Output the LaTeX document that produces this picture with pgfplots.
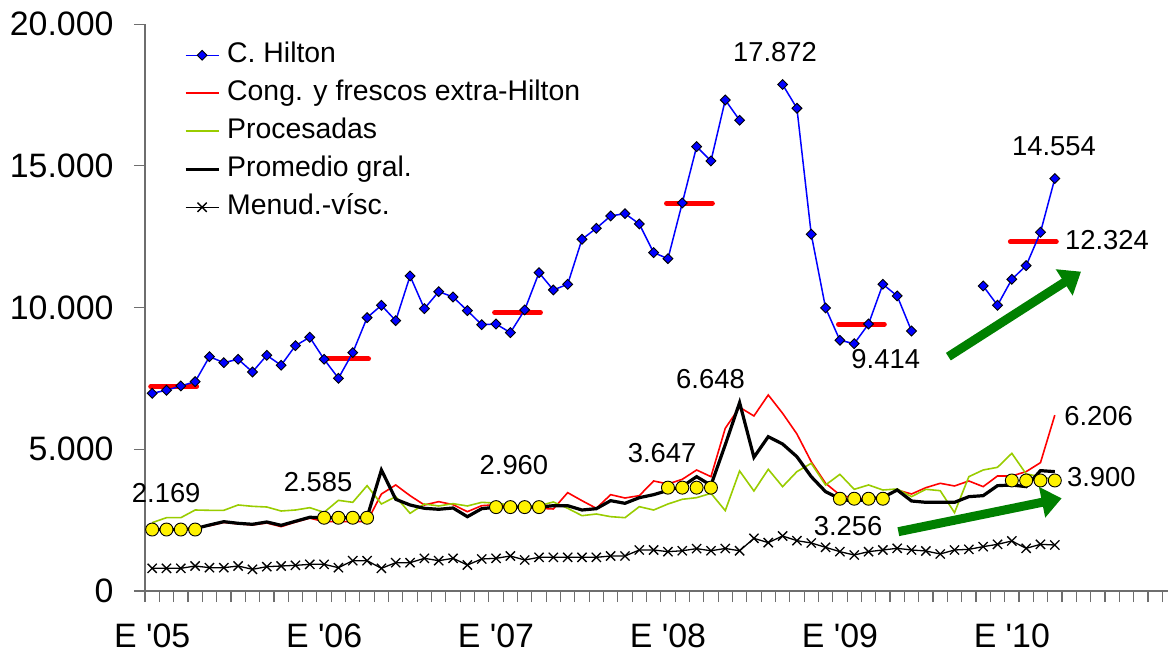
\documentclass[border=0pt]{standalone}
\usepackage{fontspec}
\setmainfont{Liberation Sans}[Ligatures=TeXOff]
\usepackage{pgfplots}
\pgfplotsset{compat=1.18}
\usepackage{pgfplotstable}
\usetikzlibrary{arrows.meta}
\definecolor{hblue}{RGB}{0,0,255}
\definecolor{procg}{RGB}{153,204,0}
\definecolor{arrg}{RGB}{0,128,0}
\definecolor{axgray}{RGB}{110,110,110}
\definecolor{cred}{RGB}{255,0,0}

\pgfplotstableread{
i H C P Pr M
0 6976 2150 2411 2169 800
1 7083 2150 2587 2169 800
2 7235 2160 2587 2169 800
3 7386 2250 2858 2200 882
4 8269 2300 2847 2329 823
5 8057 2420 2847 2446 823
6 8177 2370 3035 2389 882
7 7729 2330 2988 2354 765
8 8316 2400 2964 2435 858
9 7965 2270 2823 2318 882
10 8657 2430 2858 2460 905
11 8953 2570 2940 2601 941
12 8177 2450 2776 2585 941
13 7506 2450 3199 2585 823
14 8410 2450 3129 2585 1070
15 9645 2450 3717 2600 1070
16 10081 3423 3070 4270 800
17 9539 3741 3329 3236 999
18 11116 3364 2741 3035 999
19 9963 3035 3070 2918 1153
20 10563 3153 3000 2883 1070
21 10375 3047 3082 2929 1153
22 9892 2799 3000 2622 917
23 9398 3010 3129 2904 1129
24 9422 3047 3100 2960 1153
25 9116 2960 3035 2960 1235
26 9917 2960 2990 2960 1094
27 11233 2918 3010 2960 1188
28 10622 2894 3141 3010 1188
29 10823 3470 2918 3010 1188
30 12411 3187 2658 2858 1188
31 12799 2918 2717 2904 1188
32 13234 3399 2623 3187 1235
33 13316 3282 2587 3094 1235
34 12952 3364 2976 3293 1447
35 11939 3882 2858 3399 1447
36 11727 3776 3070 3550 1388
37 13693 3941 3236 3690 1420
38 15680 4270 3293 4034 1494
39 15175 4034 3447 3730 1420
40 17327 5742 2835 5163 1500
41 16611 6483 4235 6648 1420
42 nan 6176 3529 4718 1858
43 nan 6917 4294 5445 1706
44 17872 6271 3682 5187 1941
45 17034 5541 4212 4739 1776
46 12588 4563 4506 4034 1694
47 9987 3800 3741 3504 1541
48 8847 3388 4117 3256 1388
49 8727 3270 3588 3150 1270
50 9422 3260 3741 3256 1388
51 10823 3329 3564 3300 1447
52 10411 3564 3600 3564 1506
53 9175 3423 3329 3176 1447
54 nan 3646 3588 3129 1412
55 nan 3800 3540 3129 1306
56 nan 3706 2764 3129 1447
57 nan 3882 4034 3329 1470
58 10763 3682 4270 3364 1565
59 10081 4058 4364 3717 1647
60 11000 4058 4858 3740 1765
61 11480 4212 4129 3682 1506
62 12659 4529 4034 4247 1647
63 14554 6206 3917 4212 1623
}\data

\begin{document}
\begin{tikzpicture}
\useasboundingbox (0,0) rectangle (1168bp,657bp);
\begin{axis}[
  at={(145bp,66bp)}, anchor=south west,
  scale only axis, width=1023bp, height=566.8bp,
  xmin=-0.5, xmax=70.9, ymin=0, ymax=20000,
  clip=false,
  axis lines=left,
  axis line style={-, draw=axgray, line width=1.3bp},
  tick style={draw=axgray, line width=1.1bp},
  tick align=outside,
  major tick length=11bp,
  scaled y ticks=false,
  ytick={0,5000,10000,15000,20000},
  yticklabel style={font=\fontsize{34}{36}\selectfont, xshift=-17bp,
    /pgf/number format/.cd, fixed, 1000 sep={.}, assume math mode=true},
  xtick={-0.5,0.5,...,70.5},
  xticklabels={},
  extra x ticks={0,12,24,36,48,60},
  extra x tick labels={E '05,E '06,E '07,E '08,E '09,E '10},
  extra x tick style={major tick length=0pt,
    xticklabel style={font=\fontsize{34}{36}\selectfont, yshift=-29bp}},
  legend style={at={(0.035,0.972)}, anchor=north west, draw=none, fill=none,
    font=\fontsize{28.5}{30}\selectfont,
    nodes={inner sep=0pt, text height=20bp, text depth=6bp},
    row sep=12bp, column sep=7bp},
  legend cell align=left,
  legend image code/.code={\draw[mark repeat=2,mark phase=2,#1] plot coordinates {(0bp,0bp) (16.5bp,0bp) (33bp,0bp)};},
]
% average bars for C. Hilton
\addplot[cred, line width=5bp, line cap=round, forget plot] coordinates {(-0.1,7210) (3.1,7210)};
\addplot[cred, line width=5bp, line cap=round, forget plot] coordinates {(11.9,8187) (15.1,8187)};
\addplot[cred, line width=5bp, line cap=round, forget plot] coordinates {(23.9,9821) (27.1,9821)};
\addplot[cred, line width=5bp, line cap=round, forget plot] coordinates {(35.9,13682) (39.1,13682)};
\addplot[cred, line width=5bp, line cap=round, forget plot] coordinates {(47.9,9414) (51.1,9414)};
\addplot[cred, line width=5bp, line cap=round, forget plot] coordinates {(59.9,12324) (63.1,12324)};

\addplot[hblue, line width=1.5bp, unbounded coords=jump, mark=square*, mark size=3.5bp,
  mark options={rotate=45, fill=hblue, draw=black, line width=0.9bp, solid}] table[x=i,y=H]{\data};
\addlegendentry{C. Hilton}
\addplot[draw=cred, color=cred, line width=1.6bp, no marks] table[x=i,y=C]{\data};
\addlegendentry{Cong. y frescos extra-Hilton}
\addplot[draw=procg, color=procg, line width=1.6bp, no marks] table[x=i,y=P]{\data};
\addlegendentry{Procesadas}
\addplot[black, line width=3.2bp, no marks] table[x=i,y=Pr]{\data};
\addlegendentry{Promedio gral.}
\addplot[black, line width=1.3bp, mark=x, mark size=6.5bp, mark options={line width=1.3bp}] table[x=i,y=M]{\data};
\addlegendentry{Menud.-v\'isc.}

% yearly averages of Promedio (Jan-Apr)
\addplot[only marks, mark=*, mark size=6.5bp, mark options={fill=yellow, draw=black, line width=0.9bp}, forget plot]
 coordinates {(0,2169)(1,2169)(2,2169)(3,2169)
 (12,2585)(13,2585)(14,2585)(15,2585)
 (24,2960)(25,2960)(26,2960)(27,2960)
 (36,3647)(37,3647)(38,3647)(39,3647)
 (48,3256)(49,3256)(50,3256)(51,3256)
 (60,3900)(61,3900)(62,3900)(63,3900)};

% trend arrows
\draw[arrg, line width=9bp, -{Triangle[length=20bp, width=30bp]}] (axis cs:55.57,8269) -- (axis cs:64.83,11268);
\draw[arrg, line width=9bp, -{Triangle[length=20bp, width=30bp]}] (axis cs:52.08,2093) -- (axis cs:63.48,3271);

% value labels
\begin{scope}[every node/.style={font=\fontsize{27.5}{30}\selectfont, inner sep=0pt}]
\node at (axis cs:43.47,19021) {17.872};
\node at (axis cs:62.94,15680) {14.554};
\node at (axis cs:66.64,12387) {12.324};
\node at (axis cs:51.2,8177) {9.414};
\node at (axis cs:38.97,7471) {6.648};
\node at (axis cs:66.06,6176) {6.206};
\node at (axis cs:66.25,4034) {3.900};
\node at (axis cs:35.59,4881) {3.647};
\node at (axis cs:25.25,4447) {2.960};
\node at (axis cs:11.58,3857) {2.585};
\node at (axis cs:0.98,3448) {2.169};
\node at (axis cs:48.57,2294) {3.256};
\end{scope}
\end{axis}
\end{tikzpicture}
\end{document}
